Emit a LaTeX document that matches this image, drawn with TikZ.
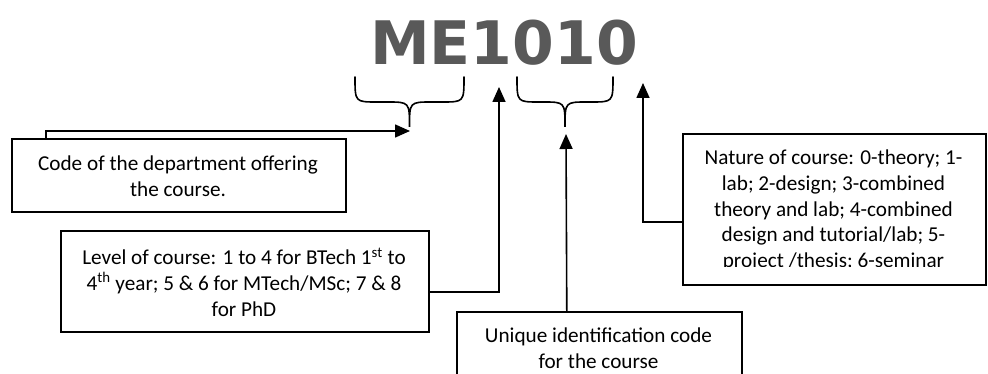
\documentclass[tikz,border=0pt]{standalone}
\usepackage{fontspec}
\setmainfont{Carlito}
\newfontfamily\titlefont{DejaVu Sans}
\usetikzlibrary{arrows.meta}
\definecolor{titlegrey}{HTML}{595959}
\tikzset{
  box/.style={draw, line width=1.6pt, rectangle, inner sep=0pt, anchor=north west},
  txt/.style={align=center, inner sep=0pt, font=\fontsize{21.2}{25.7}\selectfont},
  arr/.style={line width=1.6pt, -{Triangle[length=15pt,width=13pt]}},
  brace/.style={line width=1.6pt, line cap=round}
}
\begin{document}
\begin{tikzpicture}[x=1pt,y=-1pt]
\useasboundingbox (0,0) rectangle (988,374);
\clip (0,0) rectangle (988,374);
% title
\node[anchor=base, inner sep=0pt, text=titlegrey, font=\titlefont\bfseries\fontsize{60}{60}\selectfont] (title) at (504,65) {ME1010};
% braces
\coordinate (b1tip) at (409.5,127);
\coordinate (b2tip) at (565,127);
\draw[brace] (355,77) .. controls (355,102) .. (377,102) -- (387,102) .. controls (409.5,102) .. (b1tip)
  .. controls (409.5,102) .. (432,102) -- (442,102) .. controls (464,102) .. (464,77);
\draw[brace] (517,77) .. controls (517,102) .. (539,102) -- (543,102) .. controls (565,102) .. (b2tip)
  .. controls (565,102) .. (587,102) -- (591,102) .. controls (613,102) .. (613,77);
% arrow targets
\coordinate (t1) at (410,131);
\coordinate (t2) at (499,87);
\coordinate (t3) at (566,134);
\coordinate (t4) at (643,83);
% boxes
\node[box, minimum width=334pt, minimum height=73pt] (code) at (11,138) {};
\node[txt] (codetxt) at (178,176) {Code of the department offering\\the course.};
\node[box, minimum width=368pt, minimum height=101pt] (level) at (60,230) {};
\node[txt] (leveltxt) at (244,282) {Level of course: 1 to 4 for BTech 1\textsuperscript{st} to\\4\textsuperscript{th} year; 5 \& 6 for MTech/MSc; 7 \& 8\\for PhD};
\node[box, minimum width=285pt, minimum height=100pt] (uniq) at (456,311) {};
\begin{scope}
\clip (uniq.north west) rectangle (741,370);
\node[txt, anchor=base] (uniqtxt) at (598.5,368) {Unique identification code\\for the course};
\end{scope}
\node[box, minimum width=303pt, minimum height=151pt] (nat) at (682,133) {};
\begin{scope}
\clip (nat.north west) rectangle (985,266.5);
\node[txt, anchor=base] (nattxt) at (833.5,267.5) {Nature of course: 0-theory; 1-\\lab; 2-design; 3-combined\\theory and lab; 4-combined\\design and tutorial/lab; 5-\\project /thesis; 6-seminar};
\end{scope}
% connectors
\draw[arr] ([xshift=35pt]code.north west) |- (t1);
\draw[arr] ([yshift=-10.5pt]level.east) -| (t2);
\draw[arr] ([xshift=-32.5pt]uniq.north) -- (t3);
\draw[arr] ([yshift=-13pt]nat.west) -| (t4);
\end{tikzpicture}
\end{document}
